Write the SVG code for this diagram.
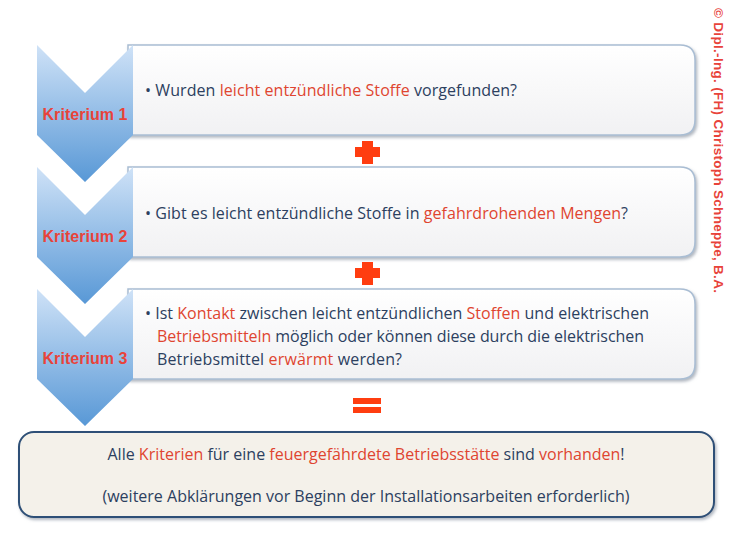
<svg xmlns="http://www.w3.org/2000/svg" width="730" height="547" viewBox="0 0 730 547">
<defs>
<linearGradient id="chev" x1="0" y1="0" x2="0" y2="1">
<stop offset="0" stop-color="#cfe2f7"/>
<stop offset="1" stop-color="#5898d6"/>
</linearGradient>
<linearGradient id="boxg" x1="0" y1="0" x2="0" y2="1">
<stop offset="0" stop-color="#ffffff"/>
<stop offset="1" stop-color="#f1f1f3"/>
</linearGradient>
<filter id="sh" x="-5%" y="-10%" width="110%" height="130%">
<feDropShadow dx="1.5" dy="2" stdDeviation="1.5" flood-color="#7a8595" flood-opacity="0.6"/>
</filter>
<style>
.box{fill:url(#boxg);stroke:#a9bdd3;stroke-width:1.5;filter:url(#sh)}
.chev{fill:url(#chev)}
.krit{font-family:"Liberation Sans",Arial,sans-serif;font-weight:bold;font-size:16px;fill:#e8433a;text-anchor:middle}
.t{font-family:"Open Sans","Liberation Sans",sans-serif;font-size:16px;fill:#2c4060}
.r{fill:#df4530}
.sign{fill:#ff3d10}
</style>
</defs>
<rect width="730" height="547" fill="#ffffff"/>

<g id="criterion1">
<path class="box" d="M128,45 H680 Q695,45 695,60 V120 Q695,135 680,135 H128 Z"/>
<path class="chev" d="M37,45 L85,93 L133,45 V135 L85,182 L37,135 Z"/>
<text class="krit" x="85" y="120" textLength="85" lengthAdjust="spacing">Kriterium 1</text>
<text class="t" x="145" y="96" textLength="372" lengthAdjust="spacing">• Wurden <tspan class="r">leicht entzündliche Stoffe</tspan> vorgefunden?</text>
</g>

<g id="criterion2">
<path class="box" d="M128,167 H680 Q695,167 695,182 V242 Q695,257 680,257 H128 Z"/>
<path class="chev" d="M37,167 L85,215 L133,167 V257 L85,304 L37,257 Z"/>
<text class="krit" x="85" y="242" textLength="85" lengthAdjust="spacing">Kriterium 2</text>
<text class="t" x="145" y="219" textLength="483" lengthAdjust="spacing">• Gibt es leicht entzündliche Stoffe in <tspan class="r">gefahrdrohenden Mengen</tspan>?</text>
</g>

<g id="criterion3">
<path class="box" d="M128,289 H680 Q695,289 695,304 V364 Q695,379 680,379 H128 Z"/>
<path class="chev" d="M37,289 L85,337 L133,289 V379 L85,426 L37,379 Z"/>
<text class="krit" x="85" y="364" textLength="85" lengthAdjust="spacing">Kriterium 3</text>
<text class="t" x="145" y="319" textLength="504" lengthAdjust="spacing">• Ist <tspan class="r">Kontakt</tspan> zwischen leicht entzündlichen <tspan class="r">Stoffen</tspan> und elektrischen</text>
<text class="t" x="157" y="342" textLength="487" lengthAdjust="spacing"><tspan class="r">Betriebsmitteln</tspan> möglich oder können diese durch die elektrischen</text>
<text class="t" x="157" y="365" textLength="245" lengthAdjust="spacing">Betriebsmittel <tspan class="r">erwärmt</tspan> werden?</text>
</g>

<g id="operators">
<path class="sign" d="M362,141 H373 V147 H380 V157 H373 V164 H362 V157 H355 V147 H362 Z"/>
<path class="sign" d="M362,262 H373 V268 H380 V278 H373 V285 H362 V278 H355 V268 H362 Z"/>
<rect class="sign" x="353" y="398" width="28" height="6"/>
<rect class="sign" x="353" y="407" width="28" height="6"/>
</g>

<g id="result">
<rect x="19" y="432" width="695" height="85" rx="15" ry="15" fill="#f4f1ea" stroke="#2e5077" stroke-width="2" filter="url(#sh)"/>
<text class="t" x="366" y="460" text-anchor="middle" textLength="517" lengthAdjust="spacing">Alle <tspan class="r">Kriterien</tspan> für eine <tspan class="r">feuergefährdete Betriebsstätte</tspan> sind <tspan class="r">vorhanden</tspan>!</text>
<text class="t" x="366" y="502" text-anchor="middle" textLength="527" lengthAdjust="spacing">(weitere Abklärungen vor Beginn der Installationsarbeiten erforderlich)</text>
</g>

<g id="copyright">
<text transform="translate(714,8) rotate(90)" font-family="Liberation Sans,Arial,sans-serif" font-weight="bold" font-size="13.5" fill="#e8433a" textLength="285" lengthAdjust="spacing">© Dipl.-Ing. (FH) Christoph Schneppe, B.A.</text>
</g>
</svg>
